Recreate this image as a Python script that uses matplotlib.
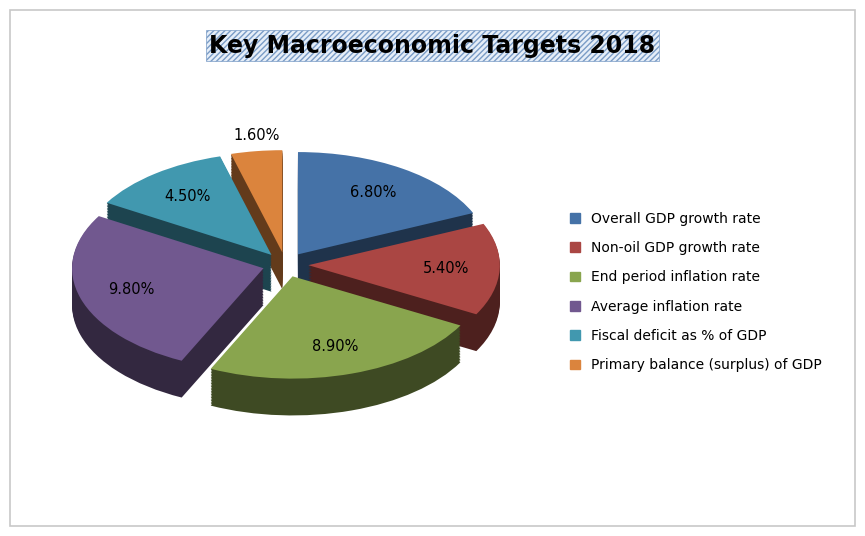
import numpy as np
import matplotlib.pyplot as plt
import matplotlib.colors as mcolors
from matplotlib.patches import Rectangle

labels = ['Overall GDP growth rate', 'Non-oil GDP growth rate', 'End period inflation rate',
          'Average inflation rate', 'Fiscal deficit as % of GDP', 'Primary balance (surplus) of GDP']
values = [6.8, 5.4, 8.9, 9.8, 4.5, 1.6]
colors = ['#4572a7', '#aa4643', '#89a54e', '#71588f', '#4198af', '#db843d']

fig = plt.figure(figsize=(8.65, 5.36), dpi=100)
fig.patch.set_facecolor('white')
fig.add_artist(Rectangle((0.012, 0.018), 0.976, 0.964, transform=fig.transFigure,
                         fill=False, edgecolor='#c8c8c8', lw=1.2))

# pie axes: elliptical top with stacked layers for depth
ax = fig.add_axes([0.06, 0.22, 0.54, 0.50])
explode = [0.12] * len(values)
dark = [tuple(np.array(mcolors.to_rgb(c)) * 0.45) for c in colors]
depth = 0.36
for d in np.linspace(depth, 0.01, 24):
    ax.pie(values, colors=dark, startangle=90, counterclock=False, explode=explode,
           center=(0, -d), wedgeprops=dict(linewidth=0))
wedges, texts = ax.pie(values, colors=colors, startangle=90, counterclock=False,
                       explode=explode, wedgeprops=dict(linewidth=0))
ax.set_xlim(-1.22, 1.22)
ax.set_ylim(-1.5, 1.12)
ax.set_aspect('auto')

for w, v in zip(wedges, values):
    ang = np.deg2rad((w.theta1 + w.theta2) / 2)
    r = 0.72 if v > 3 else 1.0
    cx, cy = w.center
    ax.text(cx + r * np.cos(ang), cy + r * np.sin(ang) + (0.15 if v < 3 else 0),
            f'{v:.2f}%', ha='center', va='center', fontsize=10.5, family='DejaVu Sans')

fig.text(0.5, 0.915, 'Key Macroeconomic Targets 2018', ha='center', va='center',
         fontsize=17, fontweight='bold', family='DejaVu Sans',
         bbox=dict(boxstyle='square,pad=0.15', facecolor='#e6eef8', edgecolor='#7a9cc6',
                   hatch='//////', lw=0.5))

handles = [Rectangle((0, 0), 1, 1, color=c) for c in colors]
fig.legend(handles, labels, loc='center left', bbox_to_anchor=(0.645, 0.455),
           frameon=False, handlelength=0.7, handleheight=0.7,
           labelspacing=1.1, prop={'family': 'DejaVu Sans', 'size': 10})

plt.savefig('out.png', dpi=100)
